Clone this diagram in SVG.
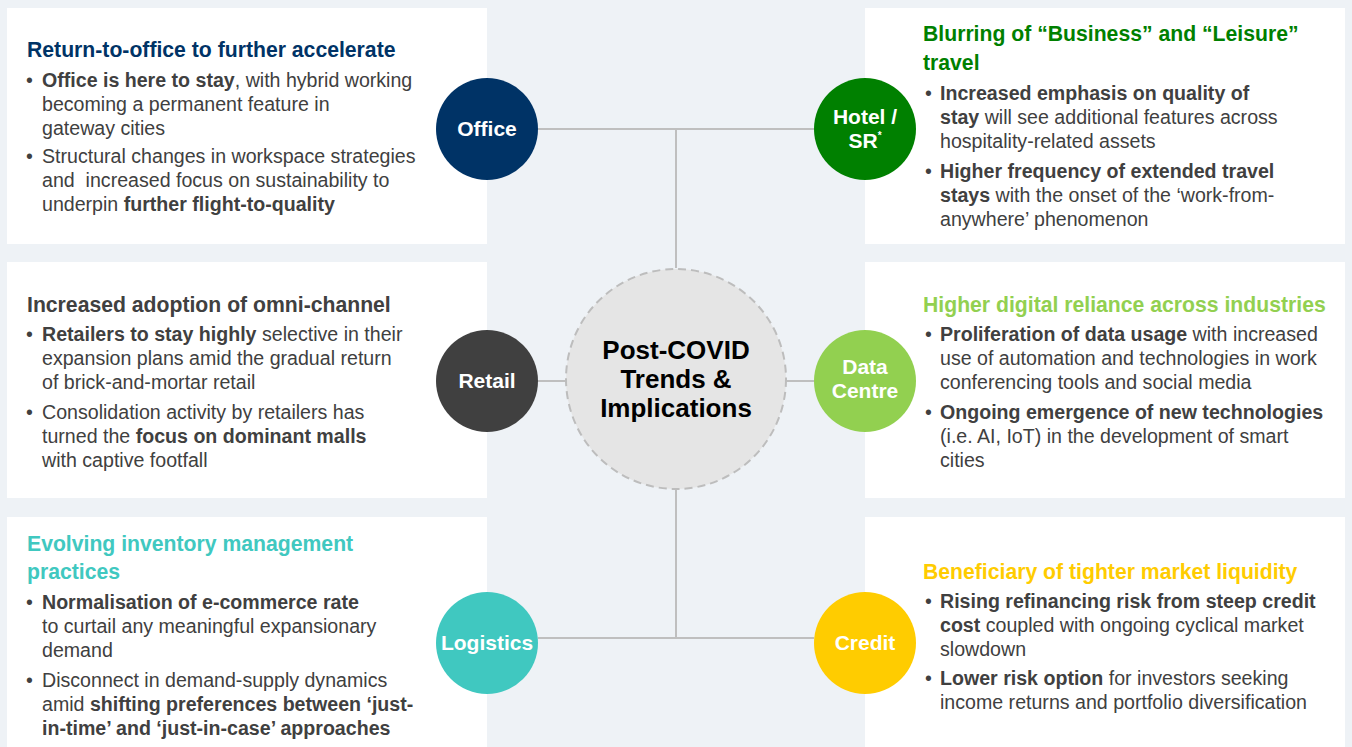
<svg xmlns="http://www.w3.org/2000/svg" width="1352" height="747" viewBox="0 0 1352 747">
  <style>
    text { font-family: "Liberation Sans", Arial, sans-serif; }
    .panel { fill: #ffffff; }
    .body { font-size: 19.6px; fill: #404040; }
    .b { font-weight: bold; }
    .head { font-size: 21.2px; font-weight: bold; }
    .lbl { font-size: 21px; font-weight: bold; fill: #ffffff; text-anchor: middle; }
    .link { stroke: #BFBFBF; stroke-width: 2; fill: none; }
  </style>

  <rect x="0" y="0" width="1352" height="747" fill="#EEF2F6"/>

  <!-- connectors -->
  <g id="connectors">
    <line class="link" x1="538" y1="129" x2="814" y2="129"/>
    <line class="link" x1="676" y1="129" x2="676" y2="268"/>
    <line class="link" x1="538" y1="381" x2="566" y2="381"/>
    <line class="link" x1="786" y1="381" x2="814" y2="381"/>
    <line class="link" x1="676" y1="490" x2="676" y2="638"/>
    <line class="link" x1="538" y1="638" x2="814" y2="638"/>
  </g>

  <!-- centre hub -->
  <g id="hub">
    <circle cx="676" cy="379" r="110" fill="#E5E5E5" stroke="#BDBDBD" stroke-width="2" stroke-dasharray="8 5"/>
    <text x="676" y="359" font-size="26" font-weight="bold" fill="#000" text-anchor="middle">Post-COVID</text>
    <text x="676" y="388" font-size="26" font-weight="bold" fill="#000" text-anchor="middle">Trends &amp;</text>
    <text x="676" y="417" font-size="26" font-weight="bold" fill="#000" text-anchor="middle">Implications</text>
  </g>

  <!-- Office -->
  <g id="office">
    <rect class="panel" x="7" y="8" width="480" height="236"/>
    <text class="head" x="27" y="57" fill="#003366">Return-to-office to further accelerate</text>
    <text class="body" x="26" y="87">•</text>
    <text class="body" x="42" y="87"><tspan class="b">Office is here to stay</tspan>, with hybrid working</text>
    <text class="body" x="42" y="111">becoming a permanent feature in</text>
    <text class="body" x="42" y="135">gateway cities</text>
    <text class="body" x="26" y="163">•</text>
    <text class="body" x="42" y="163">Structural changes in workspace strategies</text>
    <text class="body" x="42" y="187" xml:space="preserve">and  increased focus on sustainability to</text>
    <text class="body" x="42" y="211">underpin <tspan class="b">further flight-to-quality</tspan></text>
    <circle cx="487" cy="129" r="51" fill="#003366"/>
    <text class="lbl" x="487" y="136">Office</text>
  </g>

  <!-- Retail -->
  <g id="retail">
    <rect class="panel" x="7" y="262" width="480" height="236"/>
    <text class="head" x="27" y="312" fill="#404040">Increased adoption of omni-channel</text>
    <text class="body" x="26" y="341">•</text>
    <text class="body" x="42" y="341"><tspan class="b">Retailers to stay highly</tspan> selective in their</text>
    <text class="body" x="42" y="365">expansion plans amid the gradual return</text>
    <text class="body" x="42" y="389">of brick-and-mortar retail</text>
    <text class="body" x="26" y="419">•</text>
    <text class="body" x="42" y="419">Consolidation activity by retailers has</text>
    <text class="body" x="42" y="443">turned the <tspan class="b">focus on dominant malls</tspan></text>
    <text class="body" x="42" y="467">with captive footfall</text>
    <circle cx="487" cy="381" r="51" fill="#404040"/>
    <text class="lbl" x="487" y="388">Retail</text>
  </g>

  <!-- Logistics -->
  <g id="logistics">
    <rect class="panel" x="7" y="517" width="480" height="236"/>
    <text class="head" x="27" y="551" fill="#40C8C0">Evolving inventory management</text>
    <text class="head" x="27" y="579" fill="#40C8C0">practices</text>
    <text class="body" x="26" y="609">•</text>
    <text class="body" x="42" y="609"><tspan class="b">Normalisation of e-commerce rate</tspan></text>
    <text class="body" x="42" y="633">to curtail any meaningful expansionary</text>
    <text class="body" x="42" y="657">demand</text>
    <text class="body" x="26" y="687">•</text>
    <text class="body" x="42" y="687">Disconnect in demand-supply dynamics</text>
    <text class="body" x="42" y="711">amid <tspan class="b">shifting preferences between ‘just-</tspan></text>
    <text class="body b" x="42" y="735">in-time’ and ‘just-in-case’ approaches</text>
    <circle cx="487" cy="643" r="51" fill="#40C8C0"/>
    <text class="lbl" x="487" y="650">Logistics</text>
  </g>

  <!-- Hotel / SR -->
  <g id="hotel">
    <rect class="panel" x="865" y="8" width="480" height="236"/>
    <text class="head" x="923" y="41" fill="#008000">Blurring of “Business” and “Leisure”</text>
    <text class="head" x="923" y="70" fill="#008000">travel</text>
    <text class="body" x="925" y="100">•</text>
    <text class="body b" x="940" y="100">Increased emphasis on quality of</text>
    <text class="body" x="940" y="124"><tspan class="b">stay</tspan> will see additional features across</text>
    <text class="body" x="940" y="148">hospitality-related assets</text>
    <text class="body" x="925" y="178">•</text>
    <text class="body b" x="940" y="178">Higher frequency of extended travel</text>
    <text class="body" x="940" y="202"><tspan class="b">stays</tspan> with the onset of the ‘work-from-</text>
    <text class="body" x="940" y="226">anywhere’ phenomenon</text>
    <circle cx="865" cy="129" r="51" fill="#008000"/>
    <text class="lbl" x="865" y="124">Hotel /</text>
    <text class="lbl" x="865" y="148">SR<tspan font-size="10" dy="-9">*</tspan></text>
  </g>

  <!-- Data Centre -->
  <g id="datacentre">
    <rect class="panel" x="865" y="262" width="480" height="236"/>
    <text class="head" x="923" y="312" fill="#92D050">Higher digital reliance across industries</text>
    <text class="body" x="925" y="341">•</text>
    <text class="body" x="940" y="341"><tspan class="b">Proliferation of data usage</tspan> with increased</text>
    <text class="body" x="940" y="365">use of automation and technologies in work</text>
    <text class="body" x="940" y="389">conferencing tools and social media</text>
    <text class="body" x="925" y="419">•</text>
    <text class="body b" x="940" y="419">Ongoing emergence of new technologies</text>
    <text class="body" x="940" y="443">(i.e. AI, IoT) in the development of smart</text>
    <text class="body" x="940" y="467">cities</text>
    <circle cx="865" cy="381" r="51" fill="#92D050"/>
    <text class="lbl" x="865" y="374">Data</text>
    <text class="lbl" x="865" y="398">Centre</text>
  </g>

  <!-- Credit -->
  <g id="credit">
    <rect class="panel" x="865" y="517" width="480" height="236"/>
    <text class="head" x="923" y="579" fill="#FFCC00">Beneficiary of tighter market liquidity</text>
    <text class="body" x="925" y="608">•</text>
    <text class="body b" x="940" y="608">Rising refinancing risk from steep credit</text>
    <text class="body" x="940" y="632"><tspan class="b">cost</tspan> coupled with ongoing cyclical market</text>
    <text class="body" x="940" y="656">slowdown</text>
    <text class="body" x="925" y="685">•</text>
    <text class="body" x="940" y="685"><tspan class="b">Lower risk option</tspan> for investors seeking</text>
    <text class="body" x="940" y="709">income returns and portfolio diversification</text>
    <circle cx="865" cy="643" r="51" fill="#FFCC00"/>
    <text class="lbl" x="865" y="650">Credit</text>
  </g>
</svg>
